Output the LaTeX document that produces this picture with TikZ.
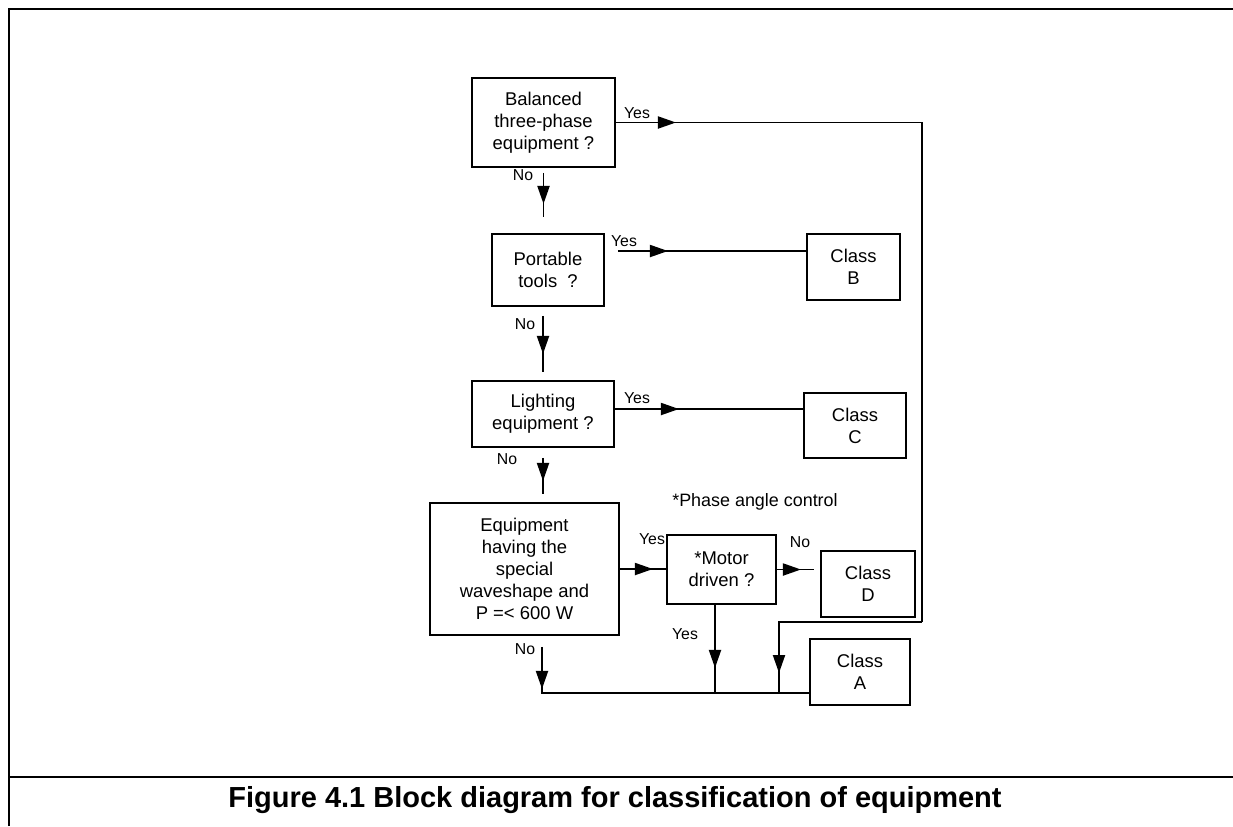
\documentclass[tikz,border=0pt]{standalone}
\usepackage{fontspec}
\setmainfont{Liberation Sans}
\usetikzlibrary{arrows.meta,decorations.markings}

\begin{document}
\begin{tikzpicture}[x=0.02cm,y=-0.02cm,line width=1.1pt,
    box/.style={draw,align=center,inner sep=0pt,font=\fontsize{10.5}{12.5}\selectfont},
    lbl/.style={font=\fontsize{9}{10}\selectfont,inner sep=0pt},
    flow/.style={postaction={decorate},decoration={markings,
        mark=at position #1 with {\arrow{Triangle[length=3.6mm,width=2.4mm]}}}}]
    \useasboundingbox (0,0) rectangle (1233,826);
    \draw[line width=1pt] (9,826) -- (9,9) -- (1233,9);
    \draw[line width=1pt] (9,777) -- (1233,777);
    \node[font=\bfseries\fontsize{16.5}{19}\selectfont](cap)at(615,800){Figure 4.1 Block diagram for classification of equipment};
    \node[box,minimum width=2.86cm,minimum height=1.78cm](bal)at(543.5,122.5){Balanced\\three-phase\\equipment ?};
    \node[box,minimum width=2.24cm,minimum height=1.44cm](port)at(548,270){Portable\\tools\ \ ?};
    \node[box,minimum width=2.84cm,minimum height=1.32cm](light)at(543,414){Lighting\\equipment ?};
    \node[box,minimum width=3.78cm,minimum height=2.64cm](equip)at(524.5,569){Equipment\\having the\\special\\waveshape and\\P =< 600 W};
    \node[box,minimum width=2.18cm,minimum height=1.38cm](motor)at(721.5,569.5){*Motor\\driven ?};
    \node[box,minimum width=1.86cm,minimum height=1.32cm](clB)at(853.5,267){Class\\B};
    \node[box,minimum width=2.04cm,minimum height=1.30cm](clC)at(855,425.5){Class\\C};
    \node[box,minimum width=1.88cm,minimum height=1.32cm](clD)at(868,584){Class\\D};
    \node[box,minimum width=2.00cm,minimum height=1.32cm](clA)at(860,672){Class\\A};
    \node[font=\fontsize{10.2}{12}\selectfont](phase)at(755,502){*Phase angle control};
    \node[lbl](ybal)at(637,113){Yes};
    \node[lbl](nbal)at(523,175){No};
    \node[lbl](yport)at(624,241){Yes};
    \node[lbl](nport)at(525,324){No};
    \node[lbl](ylight)at(637,398){Yes};
    \node[lbl](nlight)at(507,459){No};
    \node[lbl](yequip)at(652,539){Yes};
    \node[lbl](nmotor)at(800,542){No};
    \node[lbl](ymotor)at(685,634){Yes};
    \node[lbl](nequip)at(525,649){No};
    \coordinate(turn)at(922,622);
    \coordinate(jA)at(779,693);
    \coordinate(nA)at(542,693);
    \draw[flow=1.2cm](bal.east) -| (turn);
    \draw[flow=-0.4cm](turn) -| (jA);
    \draw[flow=0.62cm]([yshift=-0.1cm]bal.south) -- ([yshift=0.32cm]bal.south |- port.north);
    \draw[flow=0.76cm]([yshift=-0.18cm]port.south -| light.north) -- ([yshift=0.16cm]light.north);
    \draw[flow=0.46cm]([yshift=-0.2cm]light.south) -- ([yshift=0.16cm]light.south |- equip.north);
    \draw[flow=0.84cm]([yshift=-0.22cm]equip.south -| nA) -- (nA) -- (clA.west |- nA);
    \draw[flow=1.26cm]([xshift=-0.13cm]motor.south) -- ([xshift=-0.13cm]motor.south |- nA);
    \draw[flow=0.66cm](equip.east) -- (equip.east -| motor.west);
    \draw[flow=0.48cm](motor.east) -- ([xshift=-0.12cm]motor.east -| clD.west);
    \draw[flow=1.0cm]([shift={(0.26cm,0.38cm)}]port.east) coordinate(pB) -- (pB -| clB.west);
    \draw[flow=1.28cm]([yshift=0.1cm]light.east) coordinate(lC) -- (lC -| clC.west);
\end{tikzpicture}
\end{document}
